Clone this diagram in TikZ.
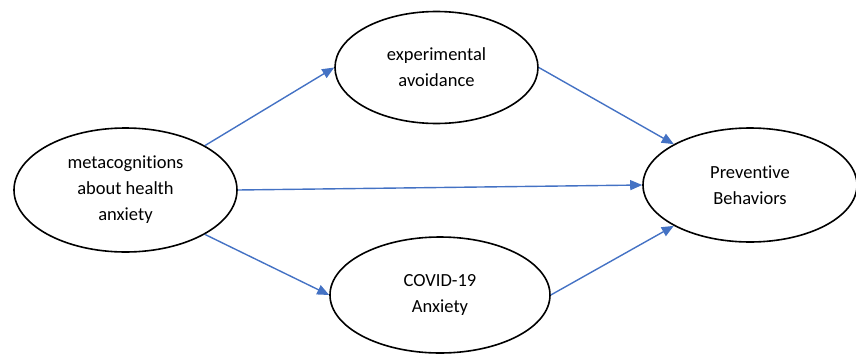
\documentclass[tikz,border=0pt]{standalone}
\usepackage{fontspec}
\setmainfont{Carlito}[Ligatures=NoCommon]
\usetikzlibrary{shapes.geometric,arrows.meta}
\definecolor{arrowblue}{RGB}{68,114,196}

\begin{document}
\begin{tikzpicture}[x=1pt,y=-1pt]

      \useasboundingbox (0,0) rectangle (856,356);

      \begin{scope}[every node/.style={ellipse,draw,line width=1.6pt,align=center,inner sep=0pt,font=\fontsize{18.5}{26}\selectfont}]
        \node[minimum width=223pt,minimum height=124pt] (1) at (125.5,190) {metacognitions\\about health\\anxiety};
        \node[minimum width=203pt,minimum height=112pt] (2) at (436.5,67.5) {experimental\\avoidance};
        \node[minimum width=220pt,minimum height=116pt] (3) at (440,295) {COVID-19\\Anxiety};
        \node[minimum width=214pt,minimum height=114pt] (4) at (750,185) {Preventive\\Behaviors};
      \end{scope}

      \begin{scope}[every edge/.style={draw,arrowblue,line width=1.4pt,-{Triangle[length=12pt,width=10pt]}}]
        \path (1.north east) edge (2.west);
        \path (1.east)       edge (4.west);
        \path (1.south east) edge (3.west);
        \path (2.east)       edge (4.north west);
        \path (3.east)       edge (4.south west);
      \end{scope}

    \end{tikzpicture}
\end{document}
